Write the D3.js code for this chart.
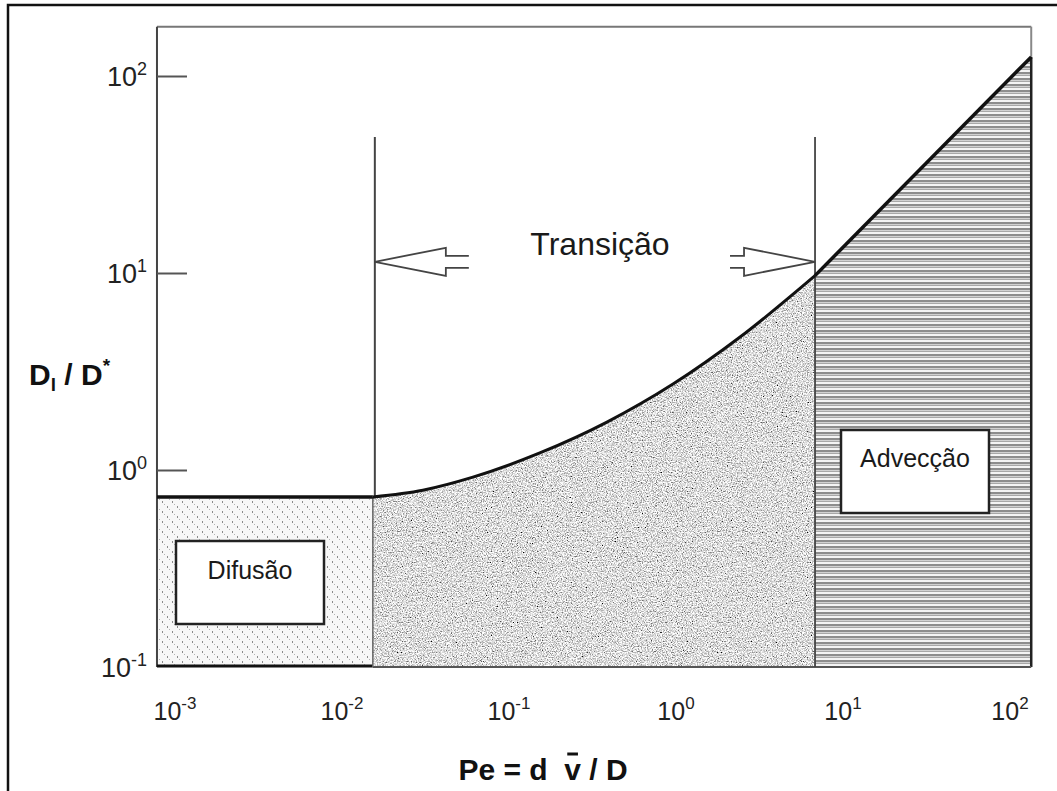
<!DOCTYPE html>
<html>
<head>
<meta charset="utf-8">
<script src="https://cdn.jsdelivr.net/npm/d3@7"></script>
<style>
  html, body { margin: 0; padding: 0; background: #fff; }
  svg { display: block; }
  text { font-family: "Liberation Sans", Arial, Helvetica, sans-serif; }
</style>
</head>
<body>
<svg id="chart" width="1057" height="791"></svg>
<script>
// Dispersion regimes: longitudinal dispersion ratio vs Peclet number
const xTickValues = [1e-3, 1e-2, 1e-1, 1e0, 1e1, 1e2];
const xTickExponents = ["-3", "-2", "-1", "0", "1", "2"];
const yTickValues = [1e-1, 1e0, 1e1, 1e2];
const yTickExponents = ["-1", "0", "1", "2"];

// plotted extent (data units)
const peExtent = [7.8e-4, 134];
const dExtent = [0.1, 178];

// diffusion plateau
const diffusionRatio = 0.73;
const peDiffusionEnd = 0.0153;
const peAdvectionStart = 6.8;
const boundaryTop = 49;
const arrowLevel = 11.4;

// transition curve
const transitionPe = [0.0153, 0.0305, 0.0608, 0.153, 0.386, 0.96, 2.42, 6.8];
const transitionD  = [0.73,   0.79,   0.92,   1.22,  1.75,  2.73, 4.73, 9.7];

// advection line
const advectionPe = [6.8, 134];
const advectionD  = [9.7, 125];

const regionLabels = ["Difusão", "Transição", "Advecção"];

const svg = d3.select("#chart");

const x = d3.scaleLog().domain([1e-3, 1e2]).range([175, 1010]);
const y = d3.scaleLog().domain([1e-1, 1e2]).range([667, 76]);

const X0 = x(peExtent[0]), X1 = x(peExtent[1]);
const Y0 = y(dExtent[0]), Y1 = y(dExtent[1]);

// ---------- textures ----------
const defs = svg.append("defs");

// light dotted texture
const pDiff = defs.append("pattern").attr("id", "pDiff")
  .attr("patternUnits", "userSpaceOnUse").attr("width", 10).attr("height", 10);
pDiff.append("rect").attr("width", 10).attr("height", 10).attr("fill", "#f7f7f7");
[[2,1,1,2,"#8a8a8a"],[7,6,1,2,"#8a8a8a"],[4,4,1,1,"#b5b5b5"],[9,9,1,1,"#b5b5b5"]].forEach(d =>
  pDiff.append("rect").attr("x", d[0]).attr("y", d[1]).attr("width", d[2]).attr("height", d[3]).attr("fill", d[4]));

// horizontal line texture
const pAdv = defs.append("pattern").attr("id", "pAdv")
  .attr("patternUnits", "userSpaceOnUse").attr("width", 40).attr("height", 6);
[[0,2,"#8d8d8d"],[2,1,"#d2d2d2"],[3,1,"#a8a8a8"],[4,2,"#f4f4f4"]].forEach(d =>
  pAdv.append("rect").attr("x", 0).attr("y", d[0]).attr("width", 40).attr("height", d[1]).attr("fill", d[2]));

// dense stipple texture
const f = defs.append("filter").attr("id", "stipple")
  .attr("x", 0).attr("y", 0).attr("width", 1).attr("height", 1);
f.append("feTurbulence").attr("type", "fractalNoise").attr("baseFrequency", 0.8)
  .attr("numOctaves", 2).attr("seed", 7).attr("result", "noise");
f.append("feColorMatrix").attr("in", "noise").attr("type", "matrix")
  .attr("values", "2.1 0 0 0 -0.33  2.1 0 0 0 -0.33  2.1 0 0 0 -0.33  0 0 0 0 1")
  .attr("result", "gray");
f.append("feComposite").attr("in", "gray").attr("in2", "SourceGraphic").attr("operator", "in");

// ---------- outer border ----------
svg.append("rect").attr("x", 8).attr("y", 5).attr("width", 1070).attr("height", 810)
  .attr("fill", "none").attr("stroke", "#111").attr("stroke-width", 2.5);

// ---------- regions ----------
svg.append("rect")
  .attr("x", X0).attr("y", y(diffusionRatio))
  .attr("width", x(peDiffusionEnd) - X0).attr("height", Y0 - y(diffusionRatio))
  .attr("fill", "url(#pDiff)");

const trans = transitionPe.map((p, i) => [p, transitionD[i]]);
const area = d3.area().x(d => x(d[0])).y0(Y0).y1(d => y(d[1])).curve(d3.curveMonotoneX);
svg.append("path").attr("d", area(trans)).attr("fill", "#999").attr("filter", "url(#stipple)");

const adv = [[advectionPe[0], dExtent[0]], [advectionPe[0], advectionD[0]],
             [advectionPe[1], advectionD[1]], [advectionPe[1], dExtent[0]]];
svg.append("path").attr("d", d3.line().x(d => x(d[0])).y(d => y(d[1]))(adv) + "Z")
  .attr("fill", "url(#pAdv)");

// ---------- frame ----------
const frame = svg.append("g").attr("fill", "none");
frame.append("line").attr("x1", X0).attr("x2", X1).attr("y1", Y1).attr("y2", Y1)
  .attr("stroke", "#777").attr("stroke-width", 2);
frame.append("line").attr("x1", X1).attr("x2", X1).attr("y1", Y1).attr("y2", y(advectionD[1]))
  .attr("stroke", "#888").attr("stroke-width", 2);
frame.append("line").attr("x1", X1).attr("x2", X1).attr("y1", y(advectionD[1])).attr("y2", Y0)
  .attr("stroke", "#222").attr("stroke-width", 2.5);
frame.append("line").attr("x1", X0).attr("x2", X0).attr("y1", Y1).attr("y2", Y0)
  .attr("stroke", "#444").attr("stroke-width", 2);
// bottom edge
frame.append("line").attr("x1", X0).attr("x2", x(peDiffusionEnd)).attr("y1", Y0 - 1).attr("y2", Y0 - 1)
  .attr("stroke", "#111").attr("stroke-width", 3);
frame.append("line").attr("x1", x(peDiffusionEnd)).attr("x2", X1).attr("y1", Y0).attr("y2", Y0)
  .attr("stroke", "#555").attr("stroke-width", 2);

// region boundaries
frame.append("line").attr("x1", x(peDiffusionEnd)).attr("x2", x(peDiffusionEnd))
  .attr("y1", Y0).attr("y2", y(diffusionRatio)).attr("stroke", "#666").attr("stroke-width", 1.5);
frame.append("line").attr("x1", x(peDiffusionEnd) + 2).attr("x2", x(peDiffusionEnd) + 2)
  .attr("y1", y(diffusionRatio)).attr("y2", y(boundaryTop)).attr("stroke", "#444").attr("stroke-width", 2);
frame.append("line").attr("x1", x(peAdvectionStart)).attr("x2", x(peAdvectionStart))
  .attr("y1", Y0).attr("y2", y(boundaryTop)).attr("stroke", "#444").attr("stroke-width", 1.8);

// ---------- y ticks ----------
const yAxis = svg.append("g").attr("transform", `translate(${X0},0)`)
  .call(d3.axisRight(y).tickValues(yTickValues.slice(1)).tickSize(30).tickFormat(""));
yAxis.select(".domain").remove();
yAxis.selectAll(".tick line").attr("stroke", "#555").attr("stroke-width", 2);

yTickValues.forEach((v, i) => {
  const t = svg.append("text").attr("x", X0 - 10).attr("y", y(v) + 10)
    .attr("text-anchor", "end").attr("fill", "#222").attr("font-size", 27);
  t.append("tspan").text("10");
  t.append("tspan").attr("dy", -11).attr("font-size", 18).text(yTickExponents[i]);
});

// ---------- x tick labels ----------
const xAxis = svg.append("g").attr("transform", `translate(0,${Y0})`)
  .call(d3.axisBottom(x).tickValues(xTickValues).tickSize(0).tickFormat(""));
xAxis.select(".domain").remove();
xTickValues.forEach((v, i) => {
  const t = svg.append("text").attr("x", x(v)).attr("y", 720)
    .attr("text-anchor", "middle").attr("fill", "#222").attr("font-size", 25);
  t.append("tspan").text("10");
  t.append("tspan").attr("dy", -11).attr("font-size", 17).text(xTickExponents[i]);
});

// ---------- curves ----------
svg.append("line").attr("x1", X0).attr("x2", x(peDiffusionEnd))
  .attr("y1", y(diffusionRatio)).attr("y2", y(diffusionRatio))
  .attr("stroke", "#111").attr("stroke-width", 3.5);
svg.append("path")
  .attr("d", d3.line().x(d => x(d[0])).y(d => y(d[1])).curve(d3.curveMonotoneX)(trans))
  .attr("fill", "none").attr("stroke", "#111").attr("stroke-width", 3);
svg.append("path")
  .attr("d", d3.line().x(d => x(d[0])).y(d => y(d[1]))(advectionPe.map((p, i) => [p, advectionD[i]])))
  .attr("fill", "none").attr("stroke", "#111").attr("stroke-width", 3.5);

// ---------- hollow arrows ----------
function hollowArrow(tipX, tipY, dir, stem) {
  // dir = -1 points left, +1 points right
  const head = 71, halfHead = 14, halfStem = 6;
  const bx = tipX - dir * head, tx = bx - dir * stem;
  const g = svg.append("g").attr("fill", "none").attr("stroke", "#444").attr("stroke-width", 1.8);
  g.append("polyline").attr("points",
    [[tx, tipY - halfStem], [bx, tipY - halfStem], [bx, tipY - halfHead], [tipX, tipY]].join(" "));
  g.append("polyline").attr("points",
    [[tx, tipY + halfStem], [bx, tipY + halfStem], [bx, tipY + halfHead], [tipX, tipY]].join(" "));
}
hollowArrow(x(peDiffusionEnd) + 2, y(arrowLevel), -1, 23);
hollowArrow(x(peAdvectionStart), y(arrowLevel), 1, 14);

svg.append("text").attr("x", 600).attr("y", 255).attr("text-anchor", "middle")
  .attr("font-size", 32).attr("fill", "#1a1a1a").text(regionLabels[1]);

// ---------- labelled boxes ----------
function labelBox(bx, by, w, h, label, ty) {
  svg.append("rect").attr("x", bx).attr("y", by).attr("width", w).attr("height", h)
    .attr("fill", "#fff").attr("stroke", "#222").attr("stroke-width", 2.5);
  svg.append("text").attr("x", bx + w / 2).attr("y", ty).attr("text-anchor", "middle")
    .attr("font-size", 25).attr("fill", "#1a1a1a").text(label);
}
labelBox(176, 541, 148, 83, regionLabels[0], 579);
labelBox(841, 430, 148, 83, regionLabels[2], 467);

// ---------- axis titles ----------
const yt = svg.append("text").attr("x", 29).attr("y", 385)
  .attr("font-size", 30).attr("font-weight", "bold").attr("fill", "#111");
yt.append("tspan").text("D");
yt.append("tspan").attr("dy", 6).attr("font-size", 19).text("l");
yt.append("tspan").attr("dy", -6).text(" / D");
yt.append("tspan").attr("dy", -13).attr("font-size", 19).text("*");

const xt = svg.append("text").attr("x", 543).attr("y", 780).attr("text-anchor", "middle")
  .attr("font-size", 30).attr("font-weight", "bold").attr("fill", "#111")
  .attr("xml:space", "preserve").text("Pe = d  v / D");
// bar over the velocity symbol
const node = xt.node();
const vIndex = xt.text().indexOf("v");
const ext = node.getExtentOfChar(vIndex);
svg.append("line").attr("x1", ext.x + 3).attr("x2", ext.x + ext.width - 3)
  .attr("y1", ext.y + 1).attr("y2", ext.y + 1)
  .attr("stroke", "#111").attr("stroke-width", 3);
</script>
</body>
</html>
